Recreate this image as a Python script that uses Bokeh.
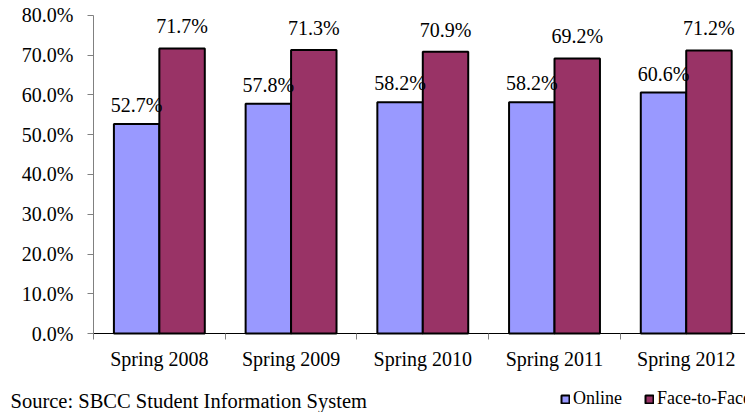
from bokeh.plotting import figure
from bokeh.models import (Range1d, FixedTicker, Label, Legend, LegendItem,
                          ColumnDataSource, NumeralTickFormatter)
from bokeh.core.properties import value
from bokeh.embed import file_html
from bokeh.resources import INLINE

categories = ["Spring 2008", "Spring 2009", "Spring 2010", "Spring 2011", "Spring 2012"]
online = [52.7, 57.8, 58.2, 58.2, 60.6]
face = [71.7, 71.3, 70.9, 69.2, 71.2]
y_ticks = [0, 10, 20, 30, 40, 50, 60, 70, 80]

FONT = "Liberation Serif"
FS = "20px"
BW = 0.345

centers = [i + 0.5 for i in range(len(categories))]
x_on = [c - BW / 2 for c in centers]
x_f2f = [c + BW / 2 for c in centers]

# frame covers whole canvas; axes are pinned at x=0 / y=0
p = figure(width=745, height=412, output_backend="svg", toolbar_location=None,
           x_range=Range1d(-0.706, 4.95), y_range=Range1d(-19.87, 83.77),
           min_border=0, min_border_left=0, min_border_right=0,
           min_border_top=0, min_border_bottom=0)
p.outline_line_color = None
p.xgrid.visible = False
p.ygrid.visible = False
p.background_fill_color = "white"
p.border_fill_color = "white"

src_on = ColumnDataSource(dict(x=x_on, top=online,
                               lbl=["%.1f%%" % v for v in online]))
src_f = ColumnDataSource(dict(x=x_f2f, top=face,
                              lbl=["%.1f%%" % v for v in face]))

r1 = p.vbar(x="x", top="top", width=BW, source=src_on, fill_color="#9999FF",
            line_color="black", line_width=2)
r2 = p.vbar(x="x", top="top", width=BW, source=src_f, fill_color="#993366",
            line_color="black", line_width=2)

for s, off in ((src_on, -19), (src_f, -22)):
    p.text(x="x", y="top", text="lbl", source=s, text_align="center",
           text_baseline="middle", y_offset=off, text_font=value(FONT),
           text_font_size=FS, text_color="black")

# Y axis
p.yaxis.fixed_location = 0
p.yaxis.bounds = (0, 80)
p.yaxis.ticker = FixedTicker(ticks=y_ticks)
p.yaxis.formatter = NumeralTickFormatter(format="0.0")
p.yaxis.major_label_overrides = {t: "%.1f%%" % t for t in y_ticks}
p.yaxis.axis_line_color = "#808080"
p.yaxis.major_tick_line_color = "#808080"
p.yaxis.major_tick_out = 6
p.yaxis.major_tick_in = 0
p.yaxis.minor_tick_line_color = None
p.yaxis.minor_tick_out = 0
p.yaxis.major_label_text_font = FONT
p.yaxis.major_label_text_font_size = FS
p.yaxis.major_label_text_color = "black"
p.yaxis.major_label_standoff = 14

# X axis
p.xaxis.fixed_location = 0
p.xaxis.bounds = (0, 5)
p.xaxis.ticker = FixedTicker(ticks=centers, minor_ticks=list(range(len(categories) + 1)))
p.xaxis.major_label_overrides = {c: n for c, n in zip(centers, categories)}
p.xaxis.axis_line_color = "black"
p.xaxis.axis_line_width = 1
p.xaxis.major_tick_line_color = None
p.xaxis.major_tick_out = 6
p.xaxis.minor_tick_line_color = "#808080"
p.xaxis.minor_tick_out = 6
p.xaxis.minor_tick_in = 0
p.xaxis.major_label_text_font = FONT
p.xaxis.major_label_text_font_size = FS
p.xaxis.major_label_text_color = "black"
p.xaxis.major_label_standoff = 8

# Source note
p.add_layout(Label(x=10, y=12, x_units="screen", y_units="screen",
                   text="Source: SBCC Student Information System",
                   text_font=FONT, text_font_size="20.5px", text_color="black",
                   text_baseline="middle"))

legend = Legend(items=[LegendItem(label="Online", renderers=[r1]),
                       LegendItem(label="Face-to-Face", renderers=[r2])],
                location=(560, 3), orientation="horizontal",
                glyph_width=10, glyph_height=10, label_standoff=3,
                spacing=22, padding=0, margin=0,
                label_text_font=FONT, label_text_font_size="18px",
                label_text_color="black",
                border_line_alpha=0, background_fill_alpha=0)
p.add_layout(legend)

open("out.html", "w").write(file_html(p, INLINE))
